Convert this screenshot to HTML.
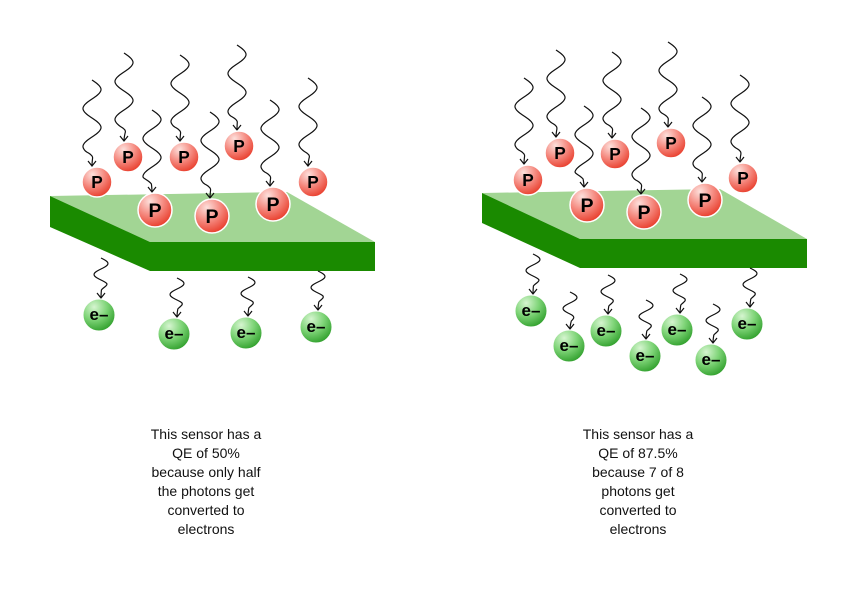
<!DOCTYPE html>
<html><head><meta charset="utf-8"><style>
html,body{margin:0;padding:0;background:#fff;}
.t{position:absolute;width:180px;text-align:center;font-family:"Liberation Sans",sans-serif;font-size:14px;line-height:19px;color:#111;}
</style></head><body>
<div style="position:relative;width:866px;height:592px;overflow:hidden">
<svg id="s" width="866" height="592" xmlns="http://www.w3.org/2000/svg" style="position:absolute;left:0;top:0">
<defs>
<radialGradient id="pg" cx="35%" cy="25%" r="80%">
<stop offset="0" stop-color="#fde0dc"/><stop offset="0.5" stop-color="#f58a80"/><stop offset="1" stop-color="#e83a28"/></radialGradient>
<radialGradient id="eg" cx="35%" cy="25%" r="80%">
<stop offset="0" stop-color="#d6f5d0"/><stop offset="0.5" stop-color="#7ed477"/><stop offset="1" stop-color="#2e9e2a"/></radialGradient>
</defs>
<polygon points="50,196 287,192 375,242 150,242" fill="#a2d594"/>
<polygon points="50,196 150,242 150,271 50,227" fill="#1a8a00"/>
<polygon points="150,242 375,242 375,271 150,271" fill="#1a8a00"/>
<polygon points="482,193 720,189 807,239 580,239" fill="#a2d594"/>
<polygon points="482,193 580,239 580,268 482,223" fill="#1a8a00"/>
<polygon points="580,239 807,239 807,268 580,268" fill="#1a8a00"/>
<g id="g"></g>
</svg>
<div class="t" style="left:116px;top:425px">This sensor has a<br>QE of 50%<br>because only half<br>the photons get<br>converted to<br>electrons</div>
<div class="t" style="left:548px;top:425px">This sensor has a<br>QE of 87.5%<br>because 7 of 8<br>photons get<br>converted to<br>electrons</div>
</div>
<script>
var g=document.getElementById('g'),h='';
function wave(x,y1,y2,amp,wl){var d='M'+x+' '+y1;var L=y2-y1-8;for(var y=y1;y<=y1+L;y+=1){var a=Math.sin((y-y1)/wl*2*Math.PI)*amp*Math.min(1,(y1+L-y)/8+0.2);d+=' L'+(x+a).toFixed(1)+' '+y;}
d+=' Q'+x+' '+(y2-3)+' '+x+' '+y2;h+='<path d="'+d+'" fill="none" stroke="#111" stroke-width="1.2"/>';
h+='<path d="M'+(x-4)+' '+(y2-5)+' L'+x+' '+y2+' L'+(x+4)+' '+(y2-5)+'" fill="none" stroke="#111" stroke-width="1.2"/>';}
function P(cx,cy,r,wx,y1){wave(wx,y1,cy-r-1,9,38);
h+='<circle cx="'+cx+'" cy="'+cy+'" r="'+r+'" fill="url(#pg)" stroke="#fff" stroke-width="1.5"/>';
h+='<text x="'+cx+'" y="'+(cy+r*0.4)+'" text-anchor="middle" font-family="Liberation Sans,sans-serif" font-weight="bold" font-size="'+(r*1.15)+'" fill="#000">P</text>';}
function E(cx,cy,wx,y1){wave(wx,y1,cy-17,7,22);
h+='<circle cx="'+cx+'" cy="'+cy+'" r="16" fill="url(#eg)" stroke="#fff" stroke-width="1"/>';
h+='<text x="'+cx+'" y="'+(cy+5)+'" text-anchor="middle" font-family="Liberation Sans,sans-serif" font-weight="bold" font-size="17" fill="#000">e–</text>';}
P(97,182,15,92,80);P(128,157,15,124,53);P(184,157,15,180,55);P(239,146,15,237,45);P(313,182,15,308,78);
P(155,210,17,152,110);P(212,216,17,210,112);P(273,204,17,270,100);
E(99,315,101,258);E(174,334,177,278);E(246,333,248,277);E(316,327,318,271);
P(528,180,15,524,78);P(560,153,15,556,50);P(615,154,15,612,52);P(671,143,15,668,42);P(743,178,15,740,75);
P(587,205,17,584,106);P(644,212,17,641,108);P(705,200,17,702,97);
E(531,311,533,254);E(569,346,570,292);E(606,331,608,275);E(645,356,646,300);E(677,330,680,274);E(711,360,713,304);E(747,324,750,268);
g.innerHTML=h;
</script>
</body></html>
